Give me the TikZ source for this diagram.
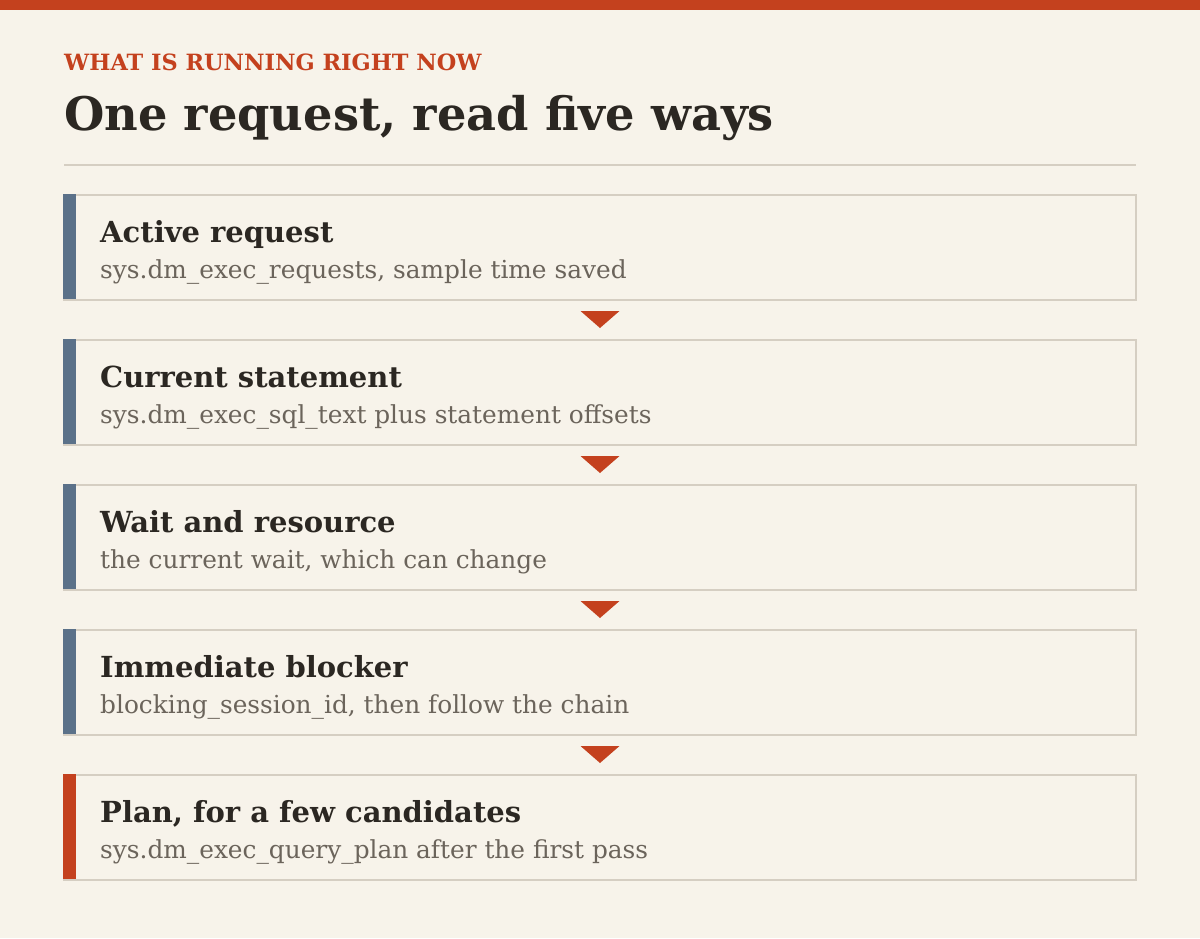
\documentclass[tikz,border=0pt]{standalone}
\usepackage{fontspec}
\setmainfont{DejaVu Serif}
\usetikzlibrary{calc}

\definecolor{paper}{HTML}{F7F3EA}
\definecolor{rust}{HTML}{C4411E}
\definecolor{ink}{HTML}{2B2722}
\definecolor{muted}{HTML}{6B645B}
\definecolor{slate}{HTML}{5B7189}
\definecolor{rule}{HTML}{D5CEC2}

\begin{document}
\begin{tikzpicture}[x=1pt,y=-1pt,
    card/.style={draw=rule, line width=2pt, minimum width=1072pt, minimum height=105pt, inner sep=0pt},
    head/.style={anchor=base west, inner sep=0pt, text=ink, font=\fontsize{29}{34}\selectfont\bfseries},
    sub/.style={anchor=base west, inner sep=0pt, text=muted, font=\fontsize{24.8}{30}\selectfont},
    tri/.style={fill=rust}]
    \useasboundingbox[fill=paper] (0,0) rectangle (1200,938);
    \fill[rust] (0,0) rectangle (1200,10);

    % heading
    \node[anchor=base west, inner sep=0pt, text=rust, font=\fontsize{22.4}{27}\selectfont\bfseries] (kicker) at (64,70) {WHAT IS RUNNING RIGHT NOW};
    \node[anchor=base west, inner sep=0pt, text=ink, font=\fontsize{46.3}{54}\selectfont\bfseries] (title) at (64,130) {One request, read five ways};
    \draw[rule, line width=2pt] (64,165) -- (1136,165);

    % the five cards
    \node[card] (box1) at (600,247.5) {};
    \node[card] (box2) at (600,392.5) {};
    \node[card] (box3) at (600,537.5) {};
    \node[card] (box4) at (600,682.5) {};
    \node[card] (box5) at (600,827.5) {};
    \fill[slate] (box1.north west) rectangle ++(13,105);
    \fill[slate] (box2.north west) rectangle ++(13,105);
    \fill[slate] (box3.north west) rectangle ++(13,105);
    \fill[slate] (box4.north west) rectangle ++(13,105);
    \fill[rust] (box5.north west) rectangle ++(13,105);

    \node[head] (head1) at (100,242) {Active request};
    \node[sub] (sub1) at (100,278) {sys.dm\_exec\_requests, sample time saved};
    \node[head] (head2) at (100,387) {Current statement};
    \node[sub] (sub2) at (100,423) {sys.dm\_exec\_sql\_text plus statement offsets};
    \node[head] (head3) at (100,532) {Wait and resource};
    \node[sub] (sub3) at (100,568) {the current wait, which can change};
    \node[head] (head4) at (100,677) {Immediate blocker};
    \node[sub] (sub4) at (100,713) {blocking\_session\_id, then follow the chain};
    \node[head] (head5) at (100,822) {Plan, for a few candidates};
    \node[sub] (sub5) at (100,858) {sys.dm\_exec\_query\_plan after the first pass};

    % arrows between cards
    \fill[tri] ($(box1.south)+(-19.5,10)$) -- ++(39,0) -- ($(box2.north)+(0,-11)$) -- cycle;
    \fill[tri] ($(box2.south)+(-19.5,10)$) -- ++(39,0) -- ($(box3.north)+(0,-11)$) -- cycle;
    \fill[tri] ($(box3.south)+(-19.5,10)$) -- ++(39,0) -- ($(box4.north)+(0,-11)$) -- cycle;
    \fill[tri] ($(box4.south)+(-19.5,10)$) -- ++(39,0) -- ($(box5.north)+(0,-11)$) -- cycle;
\end{tikzpicture}
\end{document}
